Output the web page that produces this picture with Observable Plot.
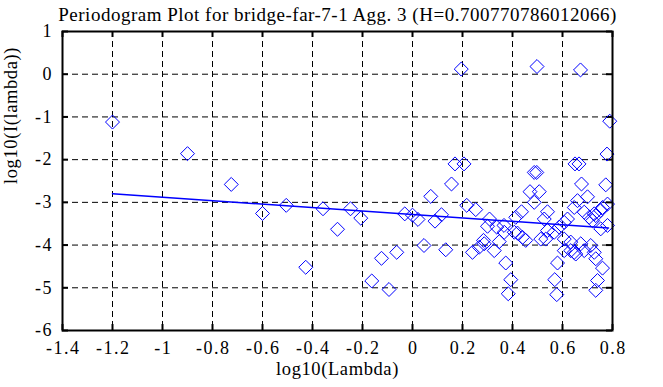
<!DOCTYPE html>
<html>
<head>
<meta charset="utf-8">
<script src="https://cdn.jsdelivr.net/npm/d3@7"></script>
<script src="https://cdn.jsdelivr.net/npm/@observablehq/plot@0.6"></script>
<style>
  html, body { margin: 0; padding: 0; background: #fff; }
  .ticklbl text { letter-spacing: 1.5px; }
  .lbl text { letter-spacing: 0.6px; }
  .ttl text { letter-spacing: 0.5px; }
</style>
</head>
<body>
<div id="chart"></div>
<script>
const titleText = "Periodogram Plot for bridge-far-7-1 Agg. 3 (H=0.700770786012066)";
const xLabel = "log10(Lambda)";
const yLabel = "log10(I(lambda))";

const xTicks = [-1.4, -1.2, -1, -0.8, -0.6, -0.4, -0.2, 0, 0.2, 0.4, 0.6, 0.8];
const yTicks = [-6, -5, -4, -3, -2, -1, 0, 1];

// periodogram points (log10 lambda, log10 I)
const periodX = [
  -1.2, -0.9, -0.725, -0.60, -0.505, -0.427, -0.358, -0.30, -0.248, -0.207,
  -0.163, -0.124, -0.094, -0.063, -0.031, 0.0, 0.022, 0.046, 0.073, 0.09,
  0.116, 0.133, 0.156, 0.17, 0.195, 0.206, 0.217, 0.24, 0.253, 0.267,
  0.284, 0.287, 0.30, 0.308, 0.327, 0.337, 0.347, 0.366, 0.367, 0.373,
  0.383, 0.393, 0.407, 0.413, 0.42, 0.436, 0.44, 0.453, 0.47, 0.487,
  0.497, 0.487, 0.498, 0.507, 0.513, 0.527, 0.533, 0.54, 0.54, 0.567,
  0.569, 0.577, 0.58, 0.587, 0.607, 0.607, 0.607, 0.62, 0.633, 0.633,
  0.647, 0.647, 0.65, 0.653, 0.66, 0.666, 0.672, 0.673, 0.676, 0.687,
  0.687, 0.70, 0.707, 0.713, 0.72, 0.727, 0.727, 0.733, 0.733, 0.733,
  0.74, 0.753, 0.753, 0.76, 0.76, 0.773, 0.778, 0.78, 0.78, 0.789
];
const periodY = [
  -1.12, -1.86, -2.58, -3.26, -3.07, -4.52, -3.15, -3.63, -3.15, -3.37,
  -4.84, -4.31, -5.04, -4.17, -3.27, -3.30, -3.40, -4.01, -2.86, -3.44,
  -3.29, -4.11, -2.57, -2.10, 0.12, -2.10, -3.07, -4.17, -3.17, -4.05,
  -3.89, -3.97, -3.56, -3.39, -4.13, -3.58, -3.92, -3.54, -3.70, -4.42,
  -5.14, -4.81, -3.70, -3.35, -3.72, -3.22, -3.82, -3.89, -2.75, -2.30,
  -2.30, -3.0, 0.18, -2.75, -3.86, -3.39, -3.86, -3.22, -3.66, -3.70,
  -4.81, -5.16, -4.42, -3.58, -3.47, -3.86, -4.13, -3.39, -3.93, -4.13,
  -3.12, -4.17, -2.10, -4.21, -2.96, -2.10, 0.10, -3.97, -2.57, -3.23,
  -4.13, -2.87, -3.35, -4.01, -3.43, -3.27, -4.17, -3.31, -4.32, -5.06,
  -4.83, -3.19, -3.62, -3.12, -4.54, -2.59, -1.87, -3.54, -3.04, -1.10
];

// fitted line end points
const fitX = [-1.2, 0.784];
const fitY = [-2.80, -3.60];

const points = periodX.map((x, i) => ({x, y: periodY[i]}));
const fit = fitX.map((x, i) => ({x, y: fitY[i]}));

const W = 663, H = 387;
const mTop = 31, mRight = 51, mBottom = 57, mLeft = 62;
const frameH = H - mTop - mBottom;
const frameW = W - mLeft - mRight;
const tickLen = 6;
const blue = "#0000ff";

const chart = Plot.plot({
  width: W,
  height: H,
  marginTop: mTop,
  marginRight: mRight,
  marginBottom: mBottom,
  marginLeft: mLeft,
  style: {fontFamily: "'Liberation Serif', 'DejaVu Serif', serif", fontSize: "18px", color: "black", background: "white"},
  x: {domain: [-1.4, 0.8]},
  y: {domain: [-6, 1]},
  marks: [
    Plot.gridX(xTicks, {stroke: "black", strokeOpacity: 1, strokeDasharray: "6,4", strokeWidth: 1}),
    Plot.gridY(yTicks, {stroke: "black", strokeOpacity: 1, strokeDasharray: "6,4", strokeWidth: 1}),
    Plot.ruleX(xTicks, {x: d => d, insetTop: frameH - tickLen, stroke: "black", strokeWidth: 2}),
    Plot.ruleX(xTicks, {x: d => d, insetBottom: frameH - tickLen, stroke: "black", strokeWidth: 2}),
    Plot.ruleY(yTicks, {y: d => d, insetRight: frameW - tickLen, stroke: "black", strokeWidth: 2}),
    Plot.ruleY(yTicks, {y: d => d, insetLeft: frameW - tickLen, stroke: "black", strokeWidth: 2}),
    Plot.axisX({ticks: xTicks, tickSize: 0, tickPadding: 11, dx: 0.75, tickFormat: d => String(d), label: null, fontSize: 18, className: "ticklbl"}),
    Plot.axisY({ticks: yTicks, tickSize: 0, tickPadding: 9.5, tickFormat: d => String(d), label: null, fontSize: 18, className: "ticklbl"}),
    Plot.line(fit, {x: "x", y: "y", stroke: blue, strokeWidth: 1.5}),
    Plot.dot(points, {x: "x", y: "y", symbol: "diamond2", r: 6.3, stroke: blue, fill: "none", strokeWidth: 1}),
    Plot.frame({stroke: "black", strokeWidth: 2}),
    Plot.text([titleText], {frameAnchor: "top", dy: -24, fontSize: 19, fill: "black", className: "ttl"}),
    Plot.text([xLabel], {frameAnchor: "bottom", dy: 44, fontSize: 18.5, fill: "black", className: "lbl"}),
    Plot.text([yLabel], {frameAnchor: "left", dx: -51, dy: 3, rotate: -90, fontSize: 18.5, fill: "black", className: "lbl"})
  ]
});

document.getElementById("chart").appendChild(chart);
</script>
</body>
</html>
